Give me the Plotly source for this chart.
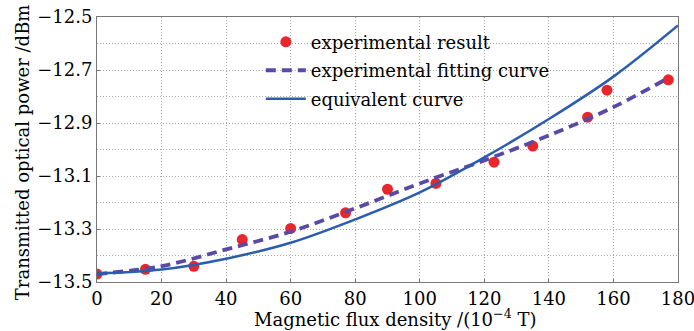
import plotly.graph_objects as go

# Experimental points
exp_x = [0, 15, 30, 45, 60, 77, 90, 105, 123, 135, 152, 158, 177]
exp_y = [-13.47, -13.452, -13.441, -13.340, -13.298, -13.239, -13.150,
         -13.128, -13.048, -12.987, -12.878, -12.776, -12.737]

# Experimental fitting curve
fit_x = [0, 20, 40, 60, 80, 100, 120, 140, 160, 177]
fit_y = [-13.47, -13.44, -13.377, -13.31, -13.222, -13.128, -13.041,
         -12.947, -12.840, -12.73]

# Equivalent curve
eq_x = [0, 20, 40, 60, 80, 100, 120, 140, 160, 180]
eq_y = [-13.468, -13.453, -13.412, -13.352, -13.264, -13.162, -13.03,
        -12.885, -12.725, -12.532]

x_ticks = [0, 20, 40, 60, 80, 100, 120, 140, 160, 180]
y_ticks = [-12.5, -12.7, -12.9, -13.1, -13.3, -13.5]
y_tick_text = ["\u221212.5", "\u221212.7", "\u221212.9", "\u221213.1", "\u221213.3", "\u221213.5"]

x_title = "Magnetic flux density /(10<sup>\u22124</sup> T)"
y_title = "Transmitted optical power /dBm"

FONT = "DejaVu Serif"
GRIDC = "#a8a8a8"
GDASH = "1px,2px"

fig = go.Figure()
fig.add_trace(go.Scatter(
    x=exp_x, y=exp_y, mode="markers", name="experimental result",
    legendgroup="a",
    marker=dict(color="#e8262c", size=11, line=dict(width=0)),
))
fig.add_trace(go.Scatter(
    x=fit_x, y=fit_y, mode="lines", name="experimental fitting curve",
    legendgroup="b",
    line=dict(color="#5a4aa6", width=3.8, dash="10px,6px", shape="spline"),
))
fig.add_trace(go.Scatter(
    x=eq_x, y=eq_y, mode="lines", name="equivalent curve",
    legendgroup="c",
    line=dict(color="#2b5cb0", width=2.5, shape="spline"),
))

# white panel behind the legend: hides grid, stays under the curves
fig.add_shape(
    type="rect", xref="paper", yref="paper",
    x0=0.293, x1=0.783, y0=0.65, y1=0.955,
    fillcolor="white", line=dict(width=0), layer="between",
)

fig.add_annotation(
    text=x_title, xref="paper", yref="paper", x=0.513, y=-0.136,
    xanchor="center", yanchor="middle", showarrow=False,
    font=dict(family=FONT, size=18, color="black"),
)
fig.add_annotation(
    text=y_title, xref="paper", yref="paper", x=-0.129, y=0.49,
    xanchor="center", yanchor="middle", showarrow=False, textangle=-90,
    font=dict(family=FONT, size=18, color="black"),
)

fig.update_layout(
    width=694, height=331,
    margin=dict(l=97, r=16, t=17, b=49, autoexpand=False),
    paper_bgcolor="white", plot_bgcolor="white",
    font=dict(family=FONT, size=18, color="black"),
    showlegend=True,
    legend=dict(
        x=0.282, y=0.975, xanchor="left", yanchor="top",
        bgcolor="rgba(0,0,0,0)", borderwidth=0,
        font=dict(family=FONT, size=18, color="black"),
        itemwidth=40, tracegroupgap=2,
    ),
    xaxis=dict(
        range=[0, 180], tickvals=x_ticks, ticks="inside", ticklen=3,
        tickcolor="#777", showline=True, linecolor="#777", linewidth=1,
        mirror=True, zeroline=False, ticklabeloverflow="allow",
        automargin=False,
        tickfont=dict(family=FONT, size=18),
        showgrid=True, gridcolor=GRIDC, griddash=GDASH, gridwidth=1,
    ),
    yaxis=dict(
        range=[-13.5, -12.5], tickvals=y_ticks, ticktext=y_tick_text,
        ticks="inside", ticklen=3, tickcolor="#777",
        showline=True, linecolor="#777", linewidth=1, mirror=True,
        zeroline=False, ticklabeloverflow="allow", automargin=False,
        tickfont=dict(family=FONT, size=18),
        minor=dict(dtick=0.1, tick0=-13.5, showgrid=True, gridcolor=GRIDC,
                   griddash=GDASH, gridwidth=1, ticks=""),
        showgrid=True, gridcolor=GRIDC, griddash=GDASH, gridwidth=1,
    ),
)

fig.write_html("out.html")
